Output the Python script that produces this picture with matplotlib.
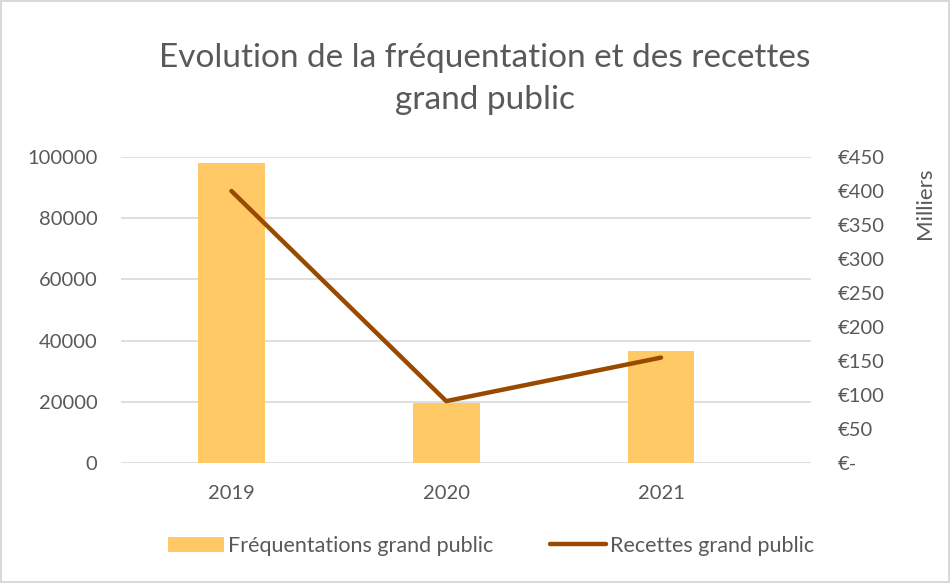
import matplotlib
matplotlib.use("Agg")
import matplotlib.pyplot as plt
from matplotlib.ticker import FuncFormatter, MultipleLocator
from matplotlib.patches import Patch
from matplotlib.lines import Line2D

years = ["2019", "2020", "2021"]
frequentations = [97900, 19700, 36600]
recettes = [400, 91, 155]  # en milliers d'euros

TEXT = "#595959"
BAR = "#FFCA66"
LINE = "#9A4A00"
GRID = "#D9D9D9"

plt.rcParams['font.family'] = ['Lato', 'DejaVu Sans']

fig = plt.figure(figsize=(9.5, 5.83), dpi=100)
fig.patch.set_facecolor("white")
fig.patch.set_edgecolor("#D9D9D9")
fig.patch.set_linewidth(1.5)

ax = fig.add_axes([121/950, 1-463/583, 690/950, (463-157)/583])
x = list(range(len(years)))
ax.bar(x, frequentations, width=0.31, color=BAR, zorder=2)
ax.set_ylim(0, 100000)
ax.set_xlim(-0.514, 2.698)
ax.yaxis.set_major_locator(MultipleLocator(20000))
ax.grid(axis="y", color=GRID, linewidth=1.2, zorder=0)
ax.set_axisbelow(True)
for s in ax.spines.values():
    s.set_visible(False)
ax.tick_params(axis="both", length=0, colors=TEXT, labelsize=14.5)
ax.tick_params(axis="y", pad=17)
ax.tick_params(axis="x", pad=16)
ax.set_xticks(x)
ax.set_xticklabels(years)

ax2 = ax.twinx()
ax2.plot(x, recettes, color=LINE, linewidth=3.2, solid_capstyle="round", solid_joinstyle="round", zorder=3)
ax2.set_ylim(0, 450)
ax2.yaxis.set_major_locator(MultipleLocator(50))
ax2.yaxis.set_major_formatter(FuncFormatter(lambda v, p: "€-" if v == 0 else f"€{int(v)}"))
for s in ax2.spines.values():
    s.set_visible(False)
ax2.tick_params(axis="y", length=0, colors=TEXT, labelsize=14.5, pad=19)
fig.text(925/950, 1-203/583, "Milliers", rotation=90, ha="center", va="center", color=TEXT, fontsize=16)

fig.text(485/950, 1-79/583, "Evolution de la fréquentation et des recettes\ngrand public",
         ha="center", va="center", color=TEXT, fontsize=24, linespacing=1.5)

handles = [Patch(facecolor=BAR, edgecolor="none", label="Fréquentations grand public"),
           Line2D([0], [0], color=LINE, linewidth=3.2, solid_capstyle="round", label="Recettes grand public")]
leg = fig.legend(handles=handles, loc="center", bbox_to_anchor=(491/950, 1-546/583), ncol=2,
                 frameon=False, fontsize=15.5, handlelength=2.6, handletextpad=0.2, columnspacing=2.6)
for t in leg.get_texts():
    t.set_color(TEXT)

fig.savefig("out.png", dpi=100, facecolor=fig.get_facecolor(), edgecolor=fig.get_edgecolor())
